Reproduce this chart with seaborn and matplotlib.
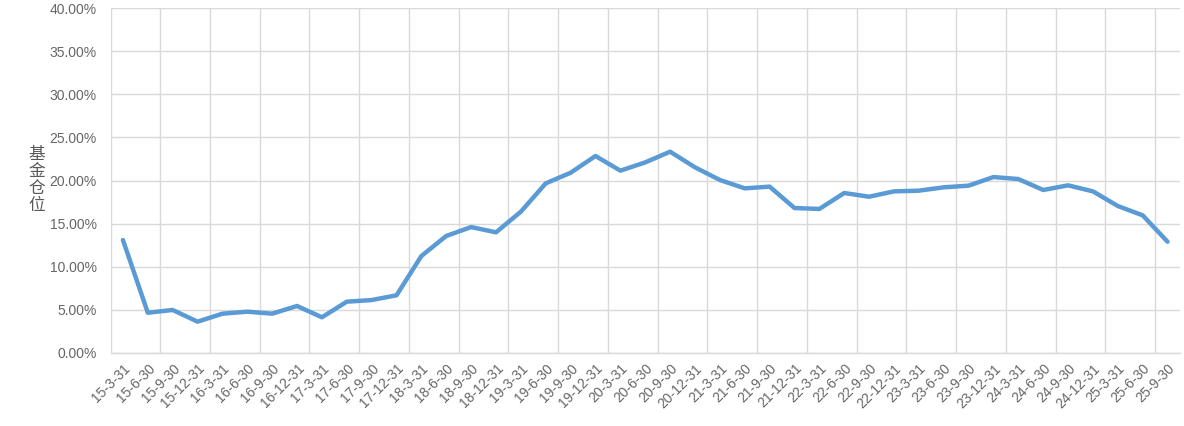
import numpy as np
import pandas as pd
import seaborn as sns
import matplotlib.pyplot as plt
from matplotlib.ticker import FuncFormatter

# quarter-end dates (yy-m-d) and fund position (%)
dates = ['15-3-31', '15-6-30', '15-9-30', '15-12-31', '16-3-31', '16-6-30', '16-9-30', '16-12-31',
         '17-3-31', '17-6-30', '17-9-30', '17-12-31', '18-3-31', '18-6-30', '18-9-30', '18-12-31',
         '19-3-31', '19-6-30', '19-9-30', '19-12-31', '20-3-31', '20-6-30', '20-9-30', '20-12-31',
         '21-3-31', '21-6-30', '21-9-30', '21-12-31', '22-3-31', '22-6-30', '22-9-30', '22-12-31',
         '23-3-31', '23-6-30', '23-9-30', '23-12-31', '24-3-31', '24-6-30', '24-9-30', '24-12-31',
         '25-3-31', '25-6-30', '25-9-30']
position = [13.1, 4.67, 4.99, 3.63, 4.56, 4.79, 4.56, 5.45,
            4.14, 5.95, 6.14, 6.69, 11.25, 13.57, 14.6, 13.99,
            16.39, 19.67, 20.9, 22.84, 21.14, 22.1, 23.34, 21.53,
            20.06, 19.09, 19.29, 16.81, 16.7, 18.55, 18.12, 18.74,
            18.82, 19.21, 19.4, 20.4, 20.17, 18.9, 19.44, 18.74,
            17.04, 15.96, 12.9]

df = pd.DataFrame({'idx': np.arange(len(dates)), 'date': dates, 'pos': position})

sns.set_style('white')
plt.rcParams['font.family'] = ['Liberation Sans', 'Noto Sans CJK SC', 'DejaVu Sans']

grid_c = '#D9D9D9'
text_c = '#666666'

fig = plt.figure(figsize=(11.84, 4.26), dpi=100)
ax = fig.add_axes([110.5 / 1184, 1 - 353 / 426, (1180 - 110.5) / 1184, (353 - 8) / 426])

sns.lineplot(data=df, x='idx', y='pos', color='#5B9BD5', linewidth=3.2, ax=ax)

ax.set_xlim(-0.5, len(dates) - 0.5)
ax.set_ylim(0, 40)
ax.set_yticks(np.arange(0, 41, 5))
ax.yaxis.set_major_formatter(FuncFormatter(lambda v, p: f'{v:.2f}%'))

ax.set_xticks(df['idx'])
ax.set_xticklabels(dates, rotation=45, ha='right', rotation_mode='anchor')
ax.set_xticks(np.arange(-0.5, len(dates), 2), minor=True)

ax.grid(axis='y', color=grid_c, linewidth=1)
ax.grid(axis='x', which='minor', color=grid_c, linewidth=1)
ax.set_axisbelow(True)

for s in ['top', 'right', 'left']:
    ax.spines[s].set_visible(False)
ax.spines['bottom'].set_color(grid_c)
ax.spines['bottom'].set_linewidth(1)

ax.tick_params(axis='x', which='major', length=0, pad=6, labelsize=10, labelcolor=text_c)
ax.tick_params(axis='x', which='minor', length=4, color=grid_c, width=1)
ax.tick_params(axis='y', length=0, pad=10, labelsize=10, labelcolor=text_c)

ax.set_xlabel('')
ax.set_ylabel('')
fig.text(37 / 1184, 1 - 180 / 426, '基\n金\n仓\n位', ha='center', va='center',
         fontsize=12, color='#595959', linespacing=1.0,
         family=['Noto Sans CJK SC', 'DejaVu Sans'])

fig.savefig('out.png', dpi=100)
